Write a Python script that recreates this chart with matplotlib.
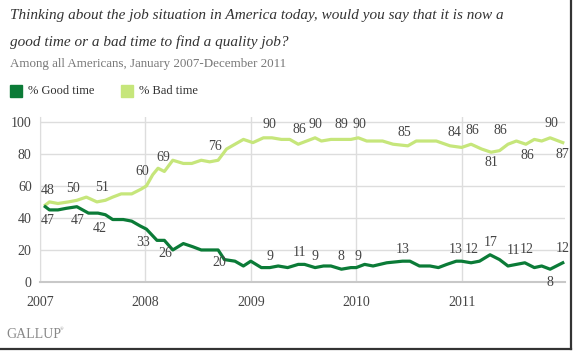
import matplotlib
matplotlib.use("Agg")
import matplotlib.pyplot as plt
from matplotlib.lines import Line2D
from matplotlib.patches import Rectangle

plt.rcParams['font.family'] = ['Liberation Serif', 'DejaVu Serif']

# poll dates as decimal years, values in percent
bad_dates = [2007.05, 2007.09, 2007.17, 2007.27, 2007.35, 2007.44, 2007.54, 2007.62,
             2007.69, 2007.77, 2007.87, 2007.96, 2008.01, 2008.07, 2008.12, 2008.18,
             2008.26, 2008.36, 2008.44, 2008.53, 2008.61, 2008.69, 2008.77, 2008.93,
             2009.02, 2009.12, 2009.20, 2009.29, 2009.37, 2009.45, 2009.53, 2009.61,
             2009.67, 2009.76, 2009.86, 2009.95, 2010.02, 2010.10, 2010.25, 2010.35,
             2010.49, 2010.57, 2010.76, 2010.89, 2011.00, 2011.09, 2011.19, 2011.28,
             2011.36, 2011.44, 2011.52, 2011.61, 2011.69, 2011.76, 2011.84, 2011.96]
bad = [48, 50, 49, 50, 51, 53, 50, 51,
       53, 55, 55, 58, 60, 67, 71, 69,
       76, 74, 74, 76, 75, 76, 83, 89,
       87, 90, 90, 89, 89, 86, 88, 90,
       88, 89, 89, 89, 90, 88, 88, 86,
       85, 88, 88, 85, 84, 86, 83, 81,
       82, 86, 88, 86, 89, 88, 90, 87]

good_dates = [2007.05, 2007.09, 2007.17, 2007.25, 2007.35, 2007.46, 2007.55, 2007.62,
              2007.69, 2007.79, 2007.87, 2007.95, 2008.01, 2008.11, 2008.18, 2008.26,
              2008.36, 2008.45, 2008.53, 2008.61, 2008.69, 2008.75, 2008.85, 2008.93,
              2009.00, 2009.10, 2009.18, 2009.26, 2009.35, 2009.45, 2009.51, 2009.61,
              2009.69, 2009.76, 2009.86, 2009.95, 2010.00, 2010.08, 2010.16, 2010.29,
              2010.44, 2010.51, 2010.60, 2010.70, 2010.78, 2010.86, 2010.95, 2011.00,
              2011.09, 2011.17, 2011.27, 2011.36, 2011.44, 2011.52, 2011.60, 2011.69,
              2011.76, 2011.84, 2011.96]
good = [47, 45, 45, 46, 47, 43, 43, 42,
        39, 39, 38, 35, 33, 26, 26, 20,
        24, 22, 20, 20, 20, 14, 13, 10,
        13, 9, 9, 10, 9, 11, 11, 9,
        10, 10, 8, 9, 9, 11, 10, 12,
        13, 13, 10, 10, 9, 11, 13, 13,
        12, 13, 17, 14, 10, 11, 12, 9,
        10, 8, 12]

# value labels: (x, y, text)
bad_labels = [(2007.07, 56.9, '48'), (2007.31, 58.1, '50'), (2007.59, 58.7, '51'),
              (2007.97, 68.7, '60'), (2008.17, 77.5, '69'), (2008.66, 84.4, '76'),
              (2009.18, 98.1, '90'), (2009.46, 95.0, '86'), (2009.61, 98.1, '90'),
              (2009.86, 98.1, '89'), (2010.03, 98.1, '90'), (2010.46, 93.1, '85'),
              (2010.93, 93.1, '84'), (2011.10, 94.4, '86'), (2011.28, 74.4, '81'),
              (2011.37, 94.4, '86'), (2011.62, 78.7, '86'), (2011.85, 98.7, '90'),
              (2011.96, 79.4, '87')]
good_labels = [(2007.07, 38.7, '47'), (2007.36, 38.7, '47'), (2007.57, 33.7, '42'),
               (2007.98, 24.4, '33'), (2008.19, 18.1, '26'), (2008.70, 11.9, '20'),
               (2009.18, 16.2, '9'), (2009.46, 18.7, '11'), (2009.61, 16.2, '9'),
               (2009.86, 16.2, '8'), (2010.02, 16.2, '9'), (2010.44, 20.6, '13'),
               (2010.94, 20.6, '13'), (2011.10, 20.6, '12'), (2011.28, 24.4, '17'),
               (2011.49, 19.4, '11'), (2011.62, 20.6, '12'), (2011.84, 0.0, '8'),
               (2011.96, 21.2, '12')]

years = [2007, 2008, 2009, 2010, 2011]
yticks = [0, 20, 40, 60, 80, 100]

dark_green = '#0b7b37'
light_green = '#c6e67b'
grid_col = '#dddddd'
text_col = '#444444'

fig = plt.figure(figsize=(5.77, 3.53), dpi=100)
fig.patch.set_facecolor('white')
ax = fig.add_axes([0.0693, 0.2011, 0.9097, 0.4675])

ax.plot(bad_dates, bad, color=light_green, lw=2.3, solid_joinstyle='round', zorder=3)
ax.plot(good_dates, good, color=dark_green, lw=2.3, solid_joinstyle='round', zorder=4)

for x, y, t in bad_labels + good_labels:
    ax.text(x, y, t, ha='center', va='center', fontsize=10, color=text_col,
            clip_on=False, zorder=5)

ax.set_xlim(2007, 2011.98)
ax.set_ylim(0, 103)
ax.set_yticks(yticks)
ax.set_xticks(years)
ax.set_xticklabels([str(y) for y in years])
ax.tick_params(length=0, labelsize=10, colors=text_col)
ax.tick_params(axis='x', pad=10)
ax.tick_params(axis='y', pad=6)
ax.grid(True, color=grid_col, lw=1)
ax.set_axisbelow(True)
for s in ['top', 'right']:
    ax.spines[s].set_visible(False)
ax.spines['left'].set_color(grid_col)
ax.spines['bottom'].set_color('#c8c8c8')
ax.spines['bottom'].set_linewidth(1.5)

# header text
fig.text(0.017, 0.955, 'Thinking about the job situation in America today, would you say that it is now a',
         fontsize=11, style='italic', color='#333333', va='center')
fig.text(0.017, 0.882, 'good time or a bad time to find a quality job?',
         fontsize=11, style='italic', color='#333333', va='center')
fig.text(0.017, 0.818, 'Among all Americans, January 2007-December 2011',
         fontsize=9.4, color='#777777', va='center')

# legend
fig.patches.append(Rectangle((10 / 577, 1 - 97 / 353), 12 / 577, 12 / 353,
                             transform=fig.transFigure, color=dark_green))
fig.text(28 / 577, 1 - 91 / 353, '% Good time', fontsize=9, color='#333333', va='center')
fig.patches.append(Rectangle((121 / 577, 1 - 97 / 353), 12 / 577, 12 / 353,
                             transform=fig.transFigure, color=light_green))
fig.text(139 / 577, 1 - 91 / 353, '% Bad time', fontsize=9, color='#333333', va='center')

fig.text(6 / 577, 1 - 334 / 353, 'GALLUP', fontsize=10, color='#888888', va='center')
fig.text(60 / 577, 1 - 329 / 353, '\u00ae', fontsize=3.5, color='#888888', va='center')

# frame shadow on right and bottom
fig.lines.append(Line2D([571 / 577, 571 / 577], [1 - 349 / 353, 1.0],
                        transform=fig.transFigure, color='#333333', lw=1.6))
fig.lines.append(Line2D([0, 571 / 577], [1 - 349 / 353, 1 - 349 / 353],
                        transform=fig.transFigure, color='#333333', lw=1.6))

fig.savefig('out.png', dpi=100)
